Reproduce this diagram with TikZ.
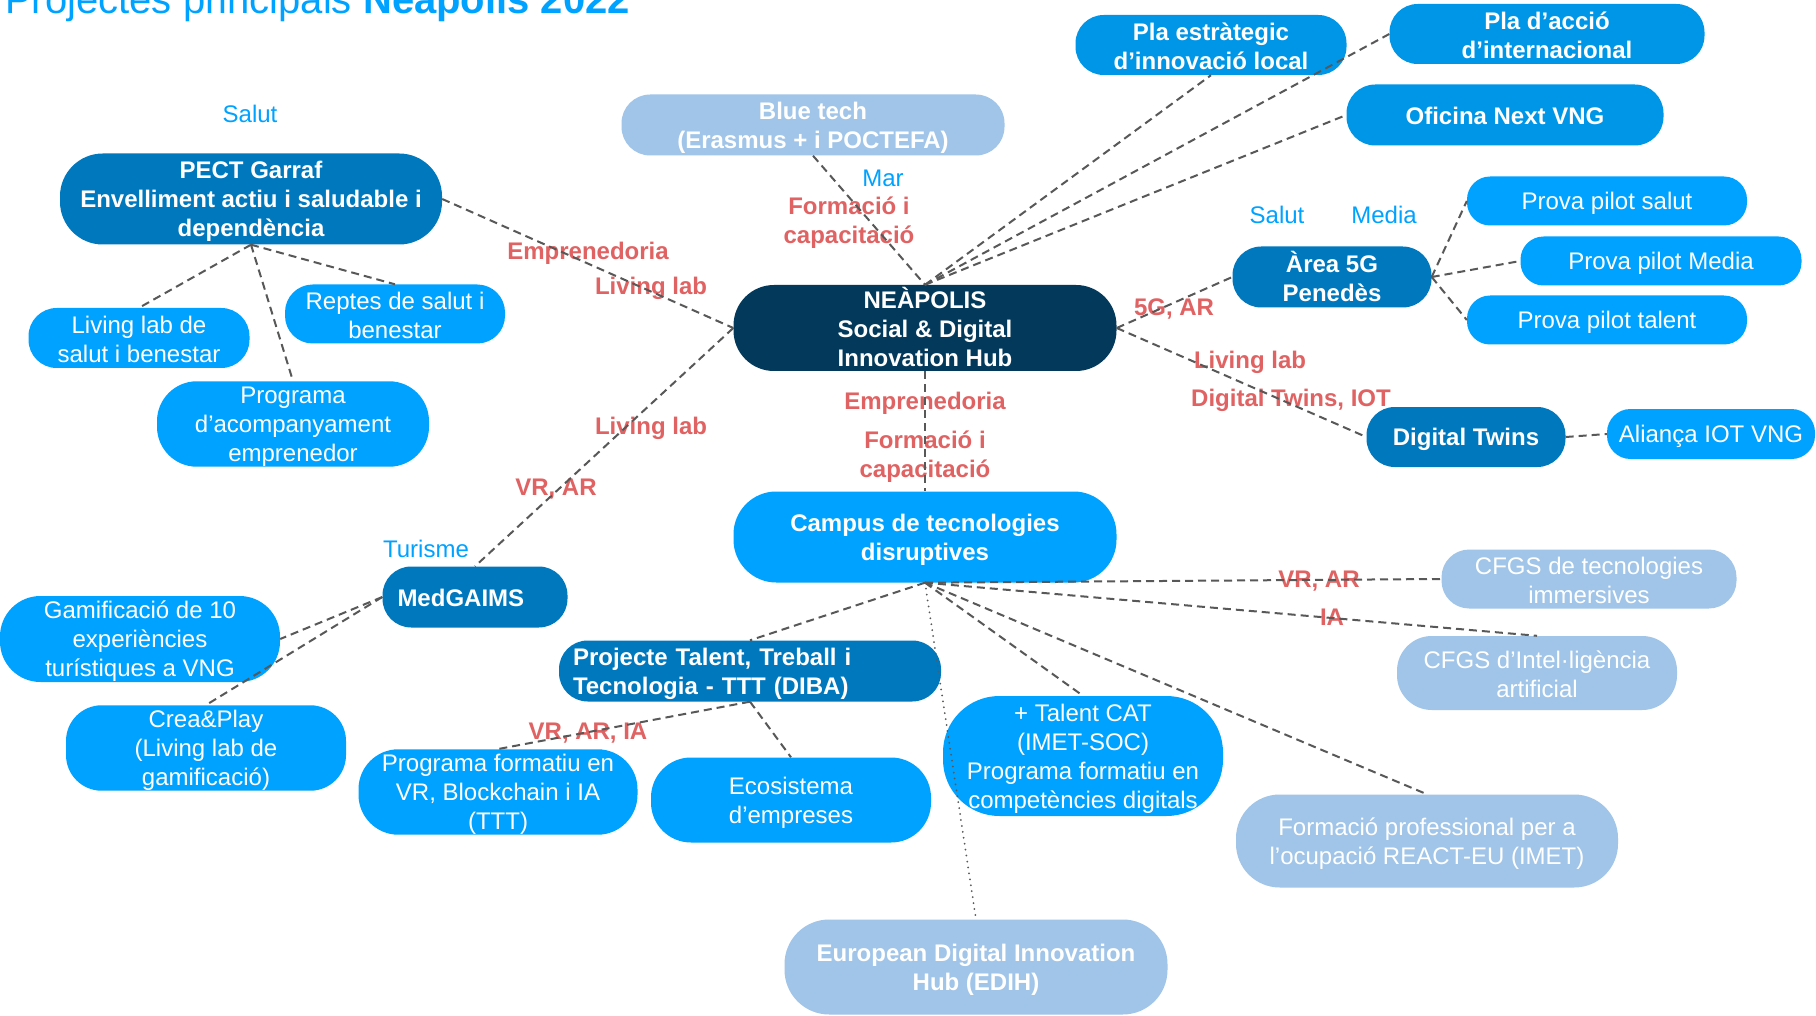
\documentclass[tikz,border=0pt]{standalone}
\usepackage{fontspec}
\setmainfont{Liberation Sans}
\usepackage{xcolor}
\usepackage{tikz}
\definecolor{hubnavy}{RGB}{3,57,90}
\definecolor{midblue}{RGB}{0,120,190}
\definecolor{brightblue}{RGB}{0,150,232}
\definecolor{liteblue}{RGB}{0,162,255}
\definecolor{paleblue}{RGB}{161,197,232}
\definecolor{tagred}{RGB}{224,98,98}
\definecolor{linegray}{RGB}{88,88,88}
\newcommand{\boxfont}{\fontsize{24}{29}\selectfont}
\newcommand{\capstrut}{\rule{0pt}{22.5pt}}
\newcommand{\footstrut}{\rule[-3pt]{0pt}{0pt}}

\begin{document}
\begin{tikzpicture}[x=1pt, y=-1pt,
    pill/.style 2 args={minimum width=#1pt, minimum height=#2pt, rounded corners=0.47*#2pt, inner sep=0pt, align=center, text=white, font=\boxfont},
    navybox/.style={fill=hubnavy, font=\boxfont\bfseries},
    midbox/.style={fill=midblue, font=\boxfont\bfseries},
    topbox/.style={fill=brightblue, font=\boxfont\bfseries},
    litebox/.style={fill=liteblue},
    litebold/.style={fill=liteblue, font=\boxfont\bfseries},
    palebox/.style={fill=paleblue},
    palebold/.style={fill=paleblue, font=\boxfont\bfseries},
    tag/.style={text=tagred, font=\boxfont\bfseries, align=center, inner sep=0pt},
    field/.style={text=liteblue, font=\boxfont, inner sep=0pt},
    link/.style={draw=linegray, line width=2pt, dash pattern=on 8pt off 5pt},
    dotlink/.style={draw=linegray, line width=2pt, line cap=round, dash pattern=on 0pt off 6pt}]
        \fill[white] (0,0) rectangle (1816,1016);
        \useasboundingbox (0,0) rectangle (1816,1016);

        % Title
        \node[anchor=base west, text=liteblue, font=\fontsize{40}{48}\selectfont, inner sep=0pt] (title) at (5,14) {Projectes principals \textbf{Neapolis 2022}};

        % Hub and campus
        \node[pill={383}{86}, navybox] (hub) at (925,328) {\capstrut NEÀPOLIS\\Social \& Digital\\Innovation Hub\footstrut};
        \node[pill={383}{91}, litebold] (campus) at (925,537) {\capstrut Campus de tecnologies\\disruptives\footstrut};

        % Salut (left)
        \node[pill={382}{91}, midbox] (pect) at (251,199) {\capstrut PECT Garraf\\Envelliment actiu i saludable i\\dependència\footstrut};
        \node[pill={221}{60}, litebox] (lls) at (139,338) {\capstrut Living lab de\\salut i benestar\footstrut};
        \node[pill={220}{59}, litebox] (reptes) at (395,314) {\capstrut Reptes de salut i\\benestar\footstrut};
        \node[pill={272}{85}, litebox] (progac) at (293,424) {\capstrut Programa\\d’acompanyament\\emprenedor\footstrut};

        % Top
        \node[pill={383}{61}, palebold] (bluetech) at (813,125) {\capstrut Blue tech\\(Erasmus + i POCTEFA)\footstrut};
        \node[pill={271}{60}, topbox] (pla1) at (1211,45) {\capstrut Pla estràtegic\\d’innovació local\footstrut};
        \node[pill={315}{60}, topbox] (pla2) at (1547,34) {\capstrut Pla d’acció\\d’internacional\footstrut};
        \node[pill={317}{61}, topbox] (oficina) at (1505,115) {\capstrut Oficina Next VNG\footstrut};

        % 5G and digital twins
        \node[pill={199}{61}, midbox] (area) at (1332,277) {\capstrut Àrea 5G\\Penedès\footstrut};
        \node[pill={280}{49}, litebox] (pilot1) at (1607,201) {\capstrut Prova pilot salut\footstrut};
        \node[pill={281}{49}, litebox] (pilot2) at (1661,261) {\capstrut Prova pilot Media\footstrut};
        \node[pill={280}{49}, litebox] (pilot3) at (1607,320) {\capstrut Prova pilot talent\footstrut};
        \node[pill={199}{60}, midbox] (twins) at (1466,437) {\capstrut Digital Twins\footstrut};
        \node[pill={208}{50}, litebox] (alianca) at (1711,434) {\capstrut Aliança IOT VNG\footstrut};

        % Turisme
        \node[pill={185}{61}, midbox, text width=155pt, inner xsep=15pt, align=left] (medgaims) at (475,597) {\capstrut MedGAIMS\footstrut};
        \node[pill={280}{86}, litebox] (gamif) at (140,639) {\capstrut Gamificació de 10\\experiències\\turístiques a VNG\footstrut};
        \node[pill={280}{76}, litebox] (crea) at (206,748) {\capstrut Crea\&Play\\(Living lab de\\gamificació)\footstrut};

        % Campus branch
        \node[pill={382}{61}, midbox, text width=354pt, inner xsep=14pt, align=left] (ttt) at (750,671) {\capstrut Projecte Talent, Treball i\\Tecnologia - TTT (DIBA)\footstrut};
        \node[pill={279}{85}, litebox] (progf) at (498,792) {\capstrut Programa formatiu en\\VR, Blockchain i IA\\(TTT)\footstrut};
        \node[pill={280}{85}, litebox] (eco) at (791,800) {\capstrut Ecosistema\\d’empreses\footstrut};
        \node[pill={280}{120}, litebox] (tcat) at (1083,756) {\capstrut + Talent CAT\\(IMET-SOC)\\Programa formatiu en\\competències digitals\footstrut};
        \node[pill={295}{59}, palebox] (cfgs1) at (1589,579) {\capstrut CFGS de tecnologies\\immersives\footstrut};
        \node[pill={280}{74}, palebox] (cfgs2) at (1537,673) {\capstrut CFGS d’Intel·ligència\\artificial\footstrut};
        \node[pill={382}{93}, palebox] (fp) at (1427,841) {\capstrut Formació professional per a\\l’ocupació REACT-EU (IMET)\footstrut};
        \node[pill={383}{95}, palebold] (edih) at (976,967) {\capstrut European Digital Innovation\\Hub (EDIH)\footstrut};

        % Field labels
        \node[field] (fsalut1) at (250,113) {\capstrut Salut\footstrut};
        \node[field] (fmar) at (883,177) {\capstrut Mar\footstrut};
        \node[field] (fsalut2) at (1277,214) {\capstrut Salut\footstrut};
        \node[field] (fmedia) at (1384,214) {\capstrut Media\footstrut};
        \node[field] (fturisme) at (426,548) {\capstrut Turisme\footstrut};

        % Link labels
        \node[tag] (temp1) at (588,251) {\capstrut Emprenedoria\footstrut};
        \node[tag] (tlive1) at (651,286) {\capstrut Living lab\footstrut};
        \node[tag] (tform1) at (849,220) {\capstrut Formació i\\capacitació\footstrut};
        \node[tag] (tlive2) at (651,426) {\capstrut Living lab\footstrut};
        \node[tag] (tvrar1) at (556,486) {\capstrut VR, AR\footstrut};
        \node[tag] (t5g) at (1174,306) {\capstrut 5G, AR\footstrut};
        \node[tag] (tlive3) at (1250,360) {\capstrut Living lab\footstrut};
        \node[tag] (tiot) at (1291,398) {\capstrut Digital Twins, IOT\footstrut};
        \node[tag] (temp2) at (925,401) {\capstrut Emprenedoria\footstrut};
        \node[tag] (tform2) at (925,454) {\capstrut Formació i\\capacitació\footstrut};
        \node[tag] (tvrar2) at (1319,578) {\capstrut VR, AR\footstrut};
        \node[tag] (tia) at (1332,616) {\capstrut IA\footstrut};
        \node[tag] (tvraria) at (588,730) {\capstrut VR, AR, IA\footstrut};

        % Links from the hub
        \draw[link] (pect.east) -- (hub.west);
        \draw[link] (bluetech.south) -- (hub.north);
        \draw[link] (hub.north) -- (pla1.south);
        \draw[link] (hub.north) -- (pla2.west);
        \draw[link] (hub.north) -- (oficina.west);
        \draw[link] (hub.east) -- (area.west);
        \draw[link] (hub.east) -- (twins.west);
        \draw[link] (hub.south) -- (campus.north);
        \draw[link] (hub.west) -- (medgaims.north);

        % Sub links
        \draw[link] (pect.south) -- (lls.north);
        \draw[link] (pect.south) -- (reptes.north);
        \draw[link] (pect.south) -- (progac.north);
        \draw[link] (area.east) -- (pilot1.west);
        \draw[link] (area.east) -- (pilot2.west);
        \draw[link] (area.east) -- (pilot3.west);
        \draw[link] (twins.east) -- (alianca.west);
        \draw[link] (medgaims.west) -- (gamif.east);
        \draw[link] (medgaims.west) -- (crea.north);

        % Campus links
        \draw[link] (campus.south) -- (ttt.north);
        \draw[link] (campus.south) -- (cfgs1.west);
        \draw[link] (campus.south) -- (cfgs2.north);
        \draw[link] (campus.south) -- (tcat.north);
        \draw[link] (campus.south) -- (fp.north);
        \draw[dotlink] (campus.south) -- (edih.north);
        \draw[link] (ttt.south) -- (progf.north);
        \draw[link] (ttt.south) -- (eco.north);
    \end{tikzpicture}
\end{document}
